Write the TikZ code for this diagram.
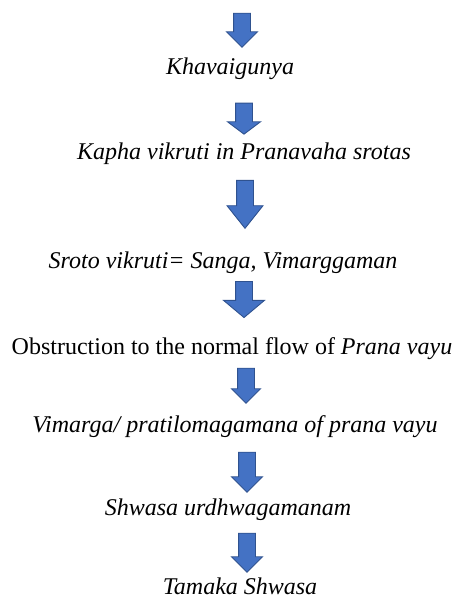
\documentclass[tikz,border=0pt]{standalone}
\usepackage{fontspec}
\setmainfont{Liberation Serif}
\usetikzlibrary{shapes.arrows}

\definecolor{arrowfill}{HTML}{4472C4}
\definecolor{arrowline}{HTML}{2F528F}

\tikzset{
  steptext/.style={anchor=base, inner sep=0pt, font=\fontsize{24}{28}\selectfont},
  blockarrow/.style={single arrow, rotate=-90, draw=arrowline, fill=arrowfill,
    line width=0.9pt, inner xsep=0pt, inner ysep=8pt, single arrow head extend=7pt,
    single arrow tip angle=90, anchor=center}
}

\begin{document}
\begin{tikzpicture}[x=1pt,y=-1pt]
	\useasboundingbox (0,0) rectangle (460,599);
	% flow arrows
	\node[blockarrow, minimum height=34pt] (a1) at (242,26) {};
	\node[blockarrow, minimum height=31pt, single arrow head extend=8pt, single arrow tip angle=106] (a2) at (244,115.5) {};
	\node[blockarrow, minimum height=48pt, single arrow head extend=9.5pt, single arrow tip angle=77] (a3) at (245,199) {};
	\node[blockarrow, minimum height=36pt, single arrow head extend=12pt, single arrow tip angle=100] (a4) at (244,296) {};
	\node[blockarrow, minimum height=35pt, single arrow head extend=6pt] (a5) at (246,381.5) {};
	\node[blockarrow, minimum height=40pt] (a6) at (247,468) {};
	\node[blockarrow, minimum height=39pt] (a7) at (247,548.5) {};
	% steps
	\node[steptext] (khava) at (230,75) {\textit{Khavaigunya}};
	\node[steptext] (kapha) at (244,159) {\textit{Kapha vikruti in Pranavaha srotas}};
	\node[steptext] (sroto) at (223,268) {\textit{Sroto vikruti= Sanga, Vimarggaman}};
	\node[steptext] (obstr) at (232,354) {Obstruction to the normal flow of \textit{Prana vayu}};
	\node[steptext] (vimarga) at (235,432) {\textit{Vimarga/ pratilomagamana of prana vayu}};
	\node[steptext] (shwasa) at (228,515) {\textit{Shwasa urdhwagamanam}};
	\node[steptext] (tamaka) at (240,594) {\textit{Tamaka Shwasa}};
\end{tikzpicture}
\end{document}
